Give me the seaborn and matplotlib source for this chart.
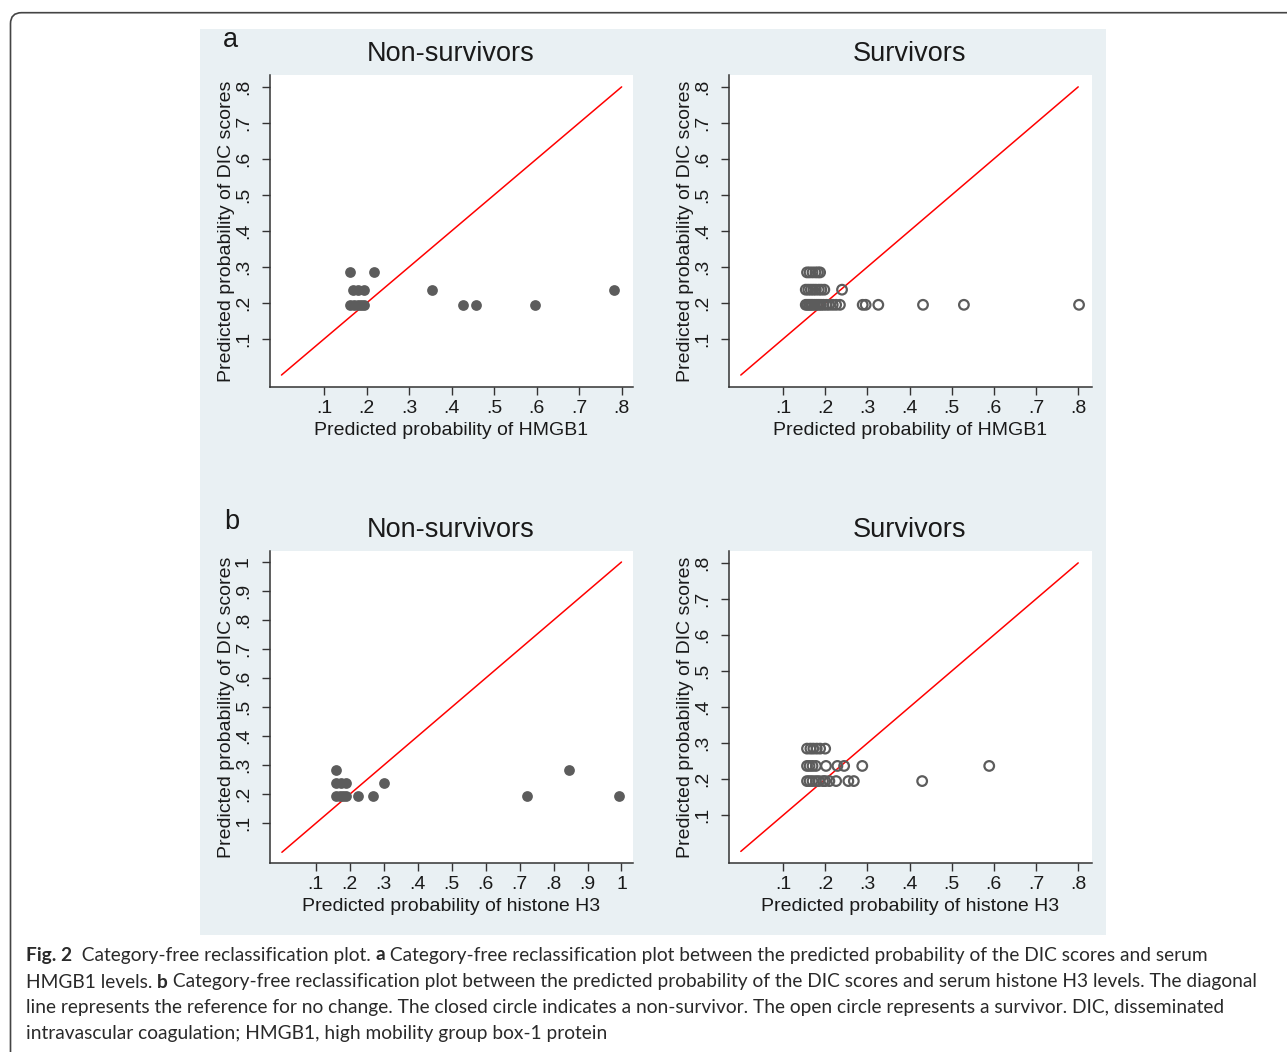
import numpy as np
import matplotlib
matplotlib.use("Agg")
import matplotlib.pyplot as plt
from matplotlib.patches import FancyBboxPatch, Rectangle
from matplotlib.transforms import IdentityTransform
import seaborn as sns

# ---- data ----
# panel a, HMGB1 vs DIC score
a_ns_x = [0.161, 0.218,
          0.169, 0.181, 0.195, 0.355, 0.781,
          0.160, 0.170, 0.180, 0.188, 0.195, 0.428, 0.457, 0.597]
a_ns_y = [0.285, 0.285,
          0.237, 0.237, 0.237, 0.237, 0.237,
          0.195, 0.195, 0.195, 0.195, 0.195, 0.195, 0.195, 0.195]

a_s_x = [0.157, 0.163, 0.170, 0.177, 0.183, 0.188,
         0.154, 0.160, 0.166, 0.172, 0.178, 0.185, 0.191, 0.198, 0.240,
         0.154, 0.158, 0.162, 0.166, 0.170, 0.175, 0.180, 0.185, 0.190,
         0.196, 0.203, 0.210, 0.218, 0.226, 0.235, 0.289, 0.296, 0.326,
         0.432, 0.529, 0.802]
a_s_y = [0.285] * 6 + [0.237] * 9 + [0.195] * 21

# panel b, histone H3 vs DIC score
b_ns_x = [0.159, 0.845,
          0.159, 0.175, 0.188, 0.300,
          0.159, 0.170, 0.180, 0.190, 0.225, 0.269, 0.722, 0.994]
b_ns_y = [0.285, 0.285,
          0.237, 0.237, 0.237, 0.237,
          0.195, 0.195, 0.195, 0.195, 0.195, 0.195, 0.195, 0.195]

b_s_x = [0.157, 0.165, 0.172, 0.180, 0.188, 0.200,
         0.157, 0.163, 0.170, 0.178, 0.202, 0.229, 0.245, 0.288, 0.589,
         0.157, 0.163, 0.170, 0.178, 0.185, 0.195, 0.200, 0.210, 0.226,
         0.255, 0.268, 0.430]
b_s_y = [0.285] * 6 + [0.237] * 9 + [0.195] * 12

diag_08 = [0.0, 0.8]
diag_10 = [0.0, 1.0]
ticks_08 = [0.1, 0.2, 0.3, 0.4, 0.5, 0.6, 0.7, 0.8]
ticks_10 = [0.1, 0.2, 0.3, 0.4, 0.5, 0.6, 0.7, 0.8, 0.9, 1.0]

titles = ["Non-survivors", "Survivors"]
xlab_a = "Predicted probability of HMGB1"
xlab_b = "Predicted probability of histone H3"
ylab = "Predicted probability of DIC scores"

sns.set_theme(style="ticks")
plt.rcParams["font.family"] = ["Liberation Sans", "DejaVu Sans"]

W, H = 1287, 1052
fig = plt.figure(figsize=(W / 100, H / 100), dpi=100)
fig.patch.set_facecolor("white")


def frect(l, t, r, b):
    return [l / W, 1 - b / H, (r - l) / W, (b - t) / H]


# outer rounded frame and grey panel (behind the axes)
frame = FancyBboxPatch((10.5, -40), 1400, H - 12.7 + 40,
                       boxstyle="round,pad=0,rounding_size=11",
                       transform=IdentityTransform(), fc="white", ec="#444444",
                       lw=1.2, zorder=-20)
fig.patches.append(frame)
fig.patches.append(Rectangle((200 / W, 1 - 935 / H), 906 / W, 906 / H,
                             transform=fig.transFigure, fc="#e9f0f3", ec="none",
                             zorder=-10))

gray = "#5c5c5c"


def fmt(v):
    return "1" if abs(v - 1) < 1e-9 else ("%.1f" % v).lstrip("0")


def panel(rect, xlim, ylim, xt, yt, xs, ys, diag, filled, xlabel):
    ax = fig.add_axes(frect(*rect))
    ax.set_facecolor("white")
    if filled:
        sns.scatterplot(x=xs, y=ys, ax=ax, s=60, color=gray, edgecolor=gray,
                        linewidth=0, zorder=3)
    else:
        sns.scatterplot(x=xs, y=ys, ax=ax, s=48, facecolors="none",
                        edgecolor=gray, linewidth=1.6, zorder=3)
    sns.lineplot(x=diag, y=diag, ax=ax, color="red", lw=1.1, zorder=2)
    ax.set_xlim(*xlim)
    ax.set_ylim(*ylim)
    ax.set_xticks(xt)
    ax.set_xticklabels([fmt(v) for v in xt])
    ax.set_yticks(yt)
    ax.set_yticklabels([fmt(v) for v in yt], rotation=90, va="center")
    for s in ["top", "right"]:
        ax.spines[s].set_visible(False)
    for s in ["left", "bottom"]:
        ax.spines[s].set_color("#333333")
        ax.spines[s].set_linewidth(1.1)
    ax.tick_params(length=6, width=1.0, color="#333333", labelsize=14,
                   labelcolor="#1a1a1a")
    ax.tick_params(axis="x", pad=3.5)
    ax.tick_params(axis="y", pad=7)
    ax.set_xlabel(xlabel, fontsize=14, color="#1a1a1a", labelpad=3)
    ax.set_ylabel(ylab, fontsize=14, color="#1a1a1a", labelpad=0)
    return ax


panel((270, 75, 632.7, 387.3), (-0.027, 0.826), (-0.034, 0.833),
      ticks_08, ticks_08, a_ns_x, a_ns_y, diag_08, True, xlab_a)
panel((729, 75, 1091.7, 387.3), (-0.028, 0.832), (-0.034, 0.833),
      ticks_08, ticks_08, a_s_x, a_s_y, diag_08, False, xlab_a)
panel((270, 551, 632.7, 863.3), (-0.035, 1.033), (-0.038, 1.038),
      ticks_10, ticks_10, b_ns_x, b_ns_y, diag_10, True, xlab_b)
panel((729, 551, 1091.7, 863.3), (-0.028, 0.832), (-0.033, 0.833),
      ticks_08, ticks_08, b_s_x, b_s_y, diag_08, False, xlab_b)

# titles and panel letters
for top in [54, 530]:
    fig.text(451 / W, 1 - top / H, titles[0], ha="center", va="center",
             fontsize=19.5, color="#1a1a1a")
    fig.text(910 / W, 1 - top / H, titles[1], ha="center", va="center",
             fontsize=19.5, color="#1a1a1a")
fig.text(230 / W, 1 - 40 / H, "a", ha="center", va="center", fontsize=19.5, color="#1a1a1a")
fig.text(232 / W, 1 - 522 / H, "b", ha="center", va="center", fontsize=19.5, color="#1a1a1a")

# caption with mixed bold runs
cap_lines = [
    [("Fig. 2", "bold"), ("  Category-free reclassification plot. ", "normal"), ("a", "bold"),
     (" Category-free reclassification plot between the predicted probability of the DIC scores and serum", "normal")],
    [("HMGB1 levels. ", "normal"), ("b", "bold"),
     (" Category-free reclassification plot between the predicted probability of the DIC scores and serum histone H3 levels. The diagonal", "normal")],
    [("line represents the reference for no change. The closed circle indicates a non-survivor. The open circle represents a survivor. DIC, disseminated", "normal")],
    [("intravascular coagulation; HMGB1, high mobility group box-1 protein", "normal")],
]
cap_y = [955, 982, 1008, 1034]
renderer = fig.canvas.get_renderer()
for runs, yy in zip(cap_lines, cap_y):
    x = 26
    for txt, wt in runs:
        t = fig.text(x / W, 1 - yy / H, txt, ha="left", va="center", fontsize=13.8,
                     family=["Lato", "DejaVu Sans"], weight=wt, color="#2a2a2a")
        bb = t.get_window_extent(renderer=renderer)
        x += bb.width

fig.savefig("out.png", dpi=100)
